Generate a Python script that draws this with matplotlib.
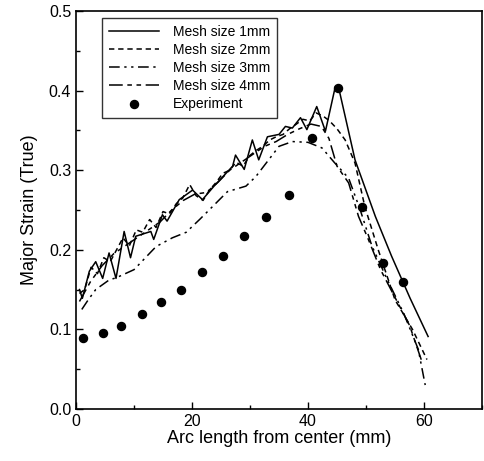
import matplotlib
matplotlib.use("Agg")
import matplotlib.pyplot as plt
from matplotlib.ticker import MultipleLocator

plt.rcParams['font.family'] = ['Liberation Sans', 'DejaVu Sans']

# mesh size 1mm (solid, jagged)
x_1mm = [0.6, 1.1, 2.3, 3.4, 4.6, 5.7, 6.9, 8.3, 9.4, 10.3, 12.9, 13.4, 14.9, 15.7,
         17.8, 20.1, 21.8, 23.8, 27.0, 27.5, 29.0, 30.4, 31.5, 33.0, 35.0, 36.1,
         37.3, 38.7, 39.8, 41.5, 43.0, 44.7, 45.3, 48.1, 51.6, 54.4, 57.6, 60.7]
y_1mm = [0.150, 0.139, 0.173, 0.185, 0.164, 0.196, 0.164, 0.223, 0.190, 0.217, 0.223, 0.213, 0.244, 0.236,
         0.263, 0.275, 0.263, 0.280, 0.305, 0.319, 0.301, 0.338, 0.313, 0.342, 0.345, 0.355,
         0.353, 0.366, 0.351, 0.380, 0.349, 0.405, 0.403, 0.313, 0.242, 0.192, 0.139, 0.091]

# mesh size 2mm (dashed)
x_2mm = [0.6, 1.5, 2.6, 3.7, 4.8, 5.9, 7.0, 8.1, 9.2, 10.4, 11.5, 12.7, 13.8, 15.0, 16.1,
         17.3, 18.4, 19.6, 20.7, 21.9, 23.0, 24.2, 25.3, 26.5, 27.6, 28.8, 29.9, 31.1,
         32.2, 33.4, 34.5, 35.7, 36.8, 38.0, 39.1, 40.3, 41.4, 42.6, 43.7, 45.0, 46.4,
         48.1, 49.8, 52.1, 55.0, 58.0, 60.5]
y_2mm = [0.145, 0.150, 0.178, 0.170, 0.190, 0.185, 0.200, 0.215, 0.205, 0.225, 0.222, 0.238, 0.228, 0.248, 0.245,
         0.258, 0.265, 0.282, 0.268, 0.262, 0.275, 0.285, 0.296, 0.300, 0.310, 0.305, 0.318, 0.325,
         0.330, 0.338, 0.342, 0.345, 0.352, 0.358, 0.364, 0.362, 0.372, 0.368, 0.362, 0.352, 0.338,
         0.309, 0.254, 0.200, 0.137, 0.100, 0.062]

# mesh size 3mm (dash-dot-dot, lowest curve)
x_3mm = [1.0, 2.1, 3.4, 5.7, 7.0, 10.0, 13.8, 16.6, 19.0, 21.3, 23.5, 26.1, 29.3, 31.0,
         33.0, 35.0, 37.3, 40.0, 42.4, 44.5, 47.0, 49.0, 51.0, 53.5, 56.5, 59.0, 60.2]
y_3mm = [0.125, 0.137, 0.150, 0.162, 0.165, 0.175, 0.204, 0.215, 0.222, 0.238, 0.254, 0.273, 0.280, 0.292,
         0.311, 0.330, 0.336, 0.335, 0.328, 0.310, 0.290, 0.250, 0.205, 0.165, 0.120, 0.075, 0.030]

# mesh size 4mm (long dash)
x_4mm = [0.6, 2.5, 4.5, 6.5, 8.5, 10.5, 12.5, 14.5, 16.5, 18.5, 20.5, 22.5, 24.5, 26.5,
         28.5, 30.5, 32.5, 34.5, 36.5, 38.5, 40.5, 42.3, 43.6, 45.0, 47.0, 48.7, 50.4,
         52.5, 55.0, 57.5, 59.7]
y_4mm = [0.135, 0.160, 0.180, 0.195, 0.205, 0.215, 0.225, 0.235, 0.250, 0.262, 0.270, 0.272, 0.285, 0.300,
         0.310, 0.320, 0.330, 0.336, 0.345, 0.352, 0.358, 0.355, 0.340, 0.305, 0.284, 0.242, 0.213,
         0.175, 0.140, 0.105, 0.058]

# experiment
x_exp = [1.2, 4.6, 7.8, 11.3, 14.7, 18.1, 21.7, 25.3, 28.9, 32.7, 36.7, 40.7, 45.1, 49.3, 52.9, 56.4]
y_exp = [0.089, 0.096, 0.104, 0.119, 0.134, 0.149, 0.172, 0.192, 0.217, 0.241, 0.269, 0.340, 0.403, 0.254, 0.183, 0.159]

fig = plt.figure(figsize=(4.84, 4.61), dpi=100)
ax = fig.add_axes([0.157, 0.113, 0.839, 0.863])

ax.plot(x_1mm, y_1mm, color='black', lw=1.1, ls='-', label='Mesh size 1mm')
ax.plot(x_2mm, y_2mm, color='black', lw=1.1, ls=(0, (3.5, 2.5)), label='Mesh size 2mm')
ax.plot(x_3mm, y_3mm, color='black', lw=1.1, ls=(0, (7, 3, 1.5, 3, 1.5, 3)), label='Mesh size 3mm')
ax.plot(x_4mm, y_4mm, color='black', lw=1.1, ls=(0, (9, 3, 3, 3, 3, 3)), label='Mesh size 4mm')
ax.plot(x_exp, y_exp, 'o', color='black', ms=5.8, label='Experiment')

ax.set_xlim(0, 70)
ax.set_ylim(0, 0.5)
ax.xaxis.set_major_locator(MultipleLocator(20))
ax.xaxis.set_minor_locator(MultipleLocator(10))
ax.yaxis.set_major_locator(MultipleLocator(0.1))
ax.yaxis.set_minor_locator(MultipleLocator(0.05))
ax.yaxis.set_major_formatter(matplotlib.ticker.FormatStrFormatter('%.1f'))
ax.tick_params(which='both', direction='in', top=False, right=False, labelsize=11.5)
ax.tick_params(which='major', length=5, width=1)
ax.tick_params(which='minor', length=3, width=1)
for s in ax.spines.values():
    s.set_linewidth(1.2)

ax.set_xlabel('Arc length from center (mm)', fontsize=13, labelpad=1)
ax.set_ylabel('Major Strain (True)', fontsize=13, labelpad=8)

leg = ax.legend(loc='upper left', bbox_to_anchor=(0.064, 0.983), borderaxespad=0, fontsize=10,
                frameon=True, fancybox=False, edgecolor='black', handlelength=3.6, borderpad=0.5,
                labelspacing=0.3, handletextpad=1.0)
leg.get_frame().set_linewidth(1.0)

fig.savefig('out.png', dpi=100)
